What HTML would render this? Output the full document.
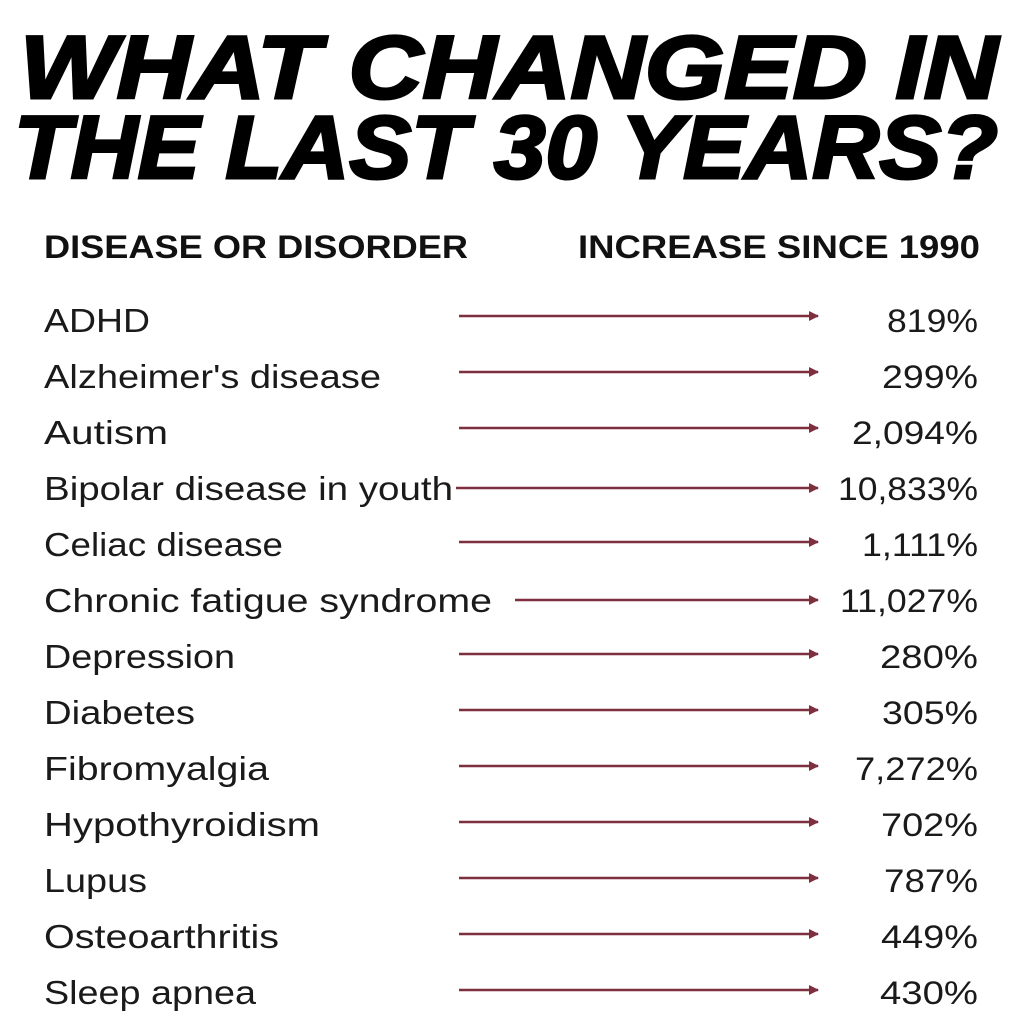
<!DOCTYPE html>
<html><head><meta charset="utf-8"><style>
html,body{margin:0;padding:0;background:#fff;}
svg{display:block;}
</style></head><body>
<svg width="1024" height="1024" viewBox="0 0 1024 1024" xmlns="http://www.w3.org/2000/svg">
<rect width="1024" height="1024" fill="#fff"/>
<g font-family="Liberation Sans, sans-serif" font-weight="bold" font-style="italic" fill="#000" stroke="#000" stroke-width="3">
<text x="20" y="98" font-size="89" textLength="978" lengthAdjust="spacingAndGlyphs">WHAT CHANGED IN</text>
<text x="14" y="178" font-size="89" textLength="984" lengthAdjust="spacingAndGlyphs">THE LAST 30 YEARS?</text>
</g>
<g font-family="Liberation Sans, sans-serif" font-weight="bold" fill="#111" font-size="32">
<text x="44" y="258" textLength="424" lengthAdjust="spacingAndGlyphs">DISEASE OR DISORDER</text>
<text x="578" y="258" textLength="402" lengthAdjust="spacingAndGlyphs">INCREASE SINCE 1990</text>
</g>
<defs><marker id="a" markerWidth="10" markerHeight="10" refX="9" refY="5" orient="auto" markerUnits="userSpaceOnUse"><path d="M0,0 L10,5 L0,10 Z" fill="#7d2f3e"/></marker></defs>
<g font-family="Liberation Sans, sans-serif" fill="#1a1a1a" font-size="33">
<text x="44" y="332" textLength="106" lengthAdjust="spacingAndGlyphs">ADHD</text>
<text x="44" y="388" textLength="337" lengthAdjust="spacingAndGlyphs">Alzheimer's disease</text>
<text x="44" y="444" textLength="124" lengthAdjust="spacingAndGlyphs">Autism</text>
<text x="44" y="500" textLength="409" lengthAdjust="spacingAndGlyphs">Bipolar disease in youth</text>
<text x="44" y="556" textLength="239" lengthAdjust="spacingAndGlyphs">Celiac disease</text>
<text x="44" y="612" textLength="448" lengthAdjust="spacingAndGlyphs">Chronic fatigue syndrome</text>
<text x="44" y="668" textLength="191" lengthAdjust="spacingAndGlyphs">Depression</text>
<text x="44" y="724" textLength="151" lengthAdjust="spacingAndGlyphs">Diabetes</text>
<text x="44" y="780" textLength="225" lengthAdjust="spacingAndGlyphs">Fibromyalgia</text>
<text x="44" y="836" textLength="276" lengthAdjust="spacingAndGlyphs">Hypothyroidism</text>
<text x="44" y="892" textLength="103" lengthAdjust="spacingAndGlyphs">Lupus</text>
<text x="44" y="948" textLength="235" lengthAdjust="spacingAndGlyphs">Osteoarthritis</text>
<text x="44" y="1004" textLength="212" lengthAdjust="spacingAndGlyphs">Sleep apnea</text>
</g>
<g font-family="Liberation Sans, sans-serif" fill="#1a1a1a" font-size="32">
<text x="887" y="332" textLength="91" lengthAdjust="spacingAndGlyphs">819%</text>
<text x="882" y="388" textLength="96" lengthAdjust="spacingAndGlyphs">299%</text>
<text x="852" y="444" textLength="126" lengthAdjust="spacingAndGlyphs">2,094%</text>
<text x="838" y="500" textLength="140" lengthAdjust="spacingAndGlyphs">10,833%</text>
<text x="862" y="556" textLength="116" lengthAdjust="spacingAndGlyphs">1,111%</text>
<text x="840" y="612" textLength="138" lengthAdjust="spacingAndGlyphs">11,027%</text>
<text x="880" y="668" textLength="98" lengthAdjust="spacingAndGlyphs">280%</text>
<text x="882" y="724" textLength="96" lengthAdjust="spacingAndGlyphs">305%</text>
<text x="855" y="780" textLength="123" lengthAdjust="spacingAndGlyphs">7,272%</text>
<text x="881" y="836" textLength="97" lengthAdjust="spacingAndGlyphs">702%</text>
<text x="884" y="892" textLength="94" lengthAdjust="spacingAndGlyphs">787%</text>
<text x="881" y="948" textLength="97" lengthAdjust="spacingAndGlyphs">449%</text>
<text x="880" y="1004" textLength="98" lengthAdjust="spacingAndGlyphs">430%</text>
</g>
<g stroke="#7d2f3e" stroke-width="2.5" marker-end="url(#a)">
<line x1="459" y1="316" x2="818" y2="316"/>
<line x1="459" y1="372" x2="818" y2="372"/>
<line x1="459" y1="428" x2="818" y2="428"/>
<line x1="456" y1="488" x2="818" y2="488"/>
<line x1="459" y1="542" x2="818" y2="542"/>
<line x1="515" y1="600" x2="818" y2="600"/>
<line x1="459" y1="654" x2="818" y2="654"/>
<line x1="459" y1="710" x2="818" y2="710"/>
<line x1="459" y1="766" x2="818" y2="766"/>
<line x1="459" y1="822" x2="818" y2="822"/>
<line x1="459" y1="878" x2="818" y2="878"/>
<line x1="459" y1="934" x2="818" y2="934"/>
<line x1="459" y1="990" x2="818" y2="990"/>
</g>
</svg>
</body></html>
